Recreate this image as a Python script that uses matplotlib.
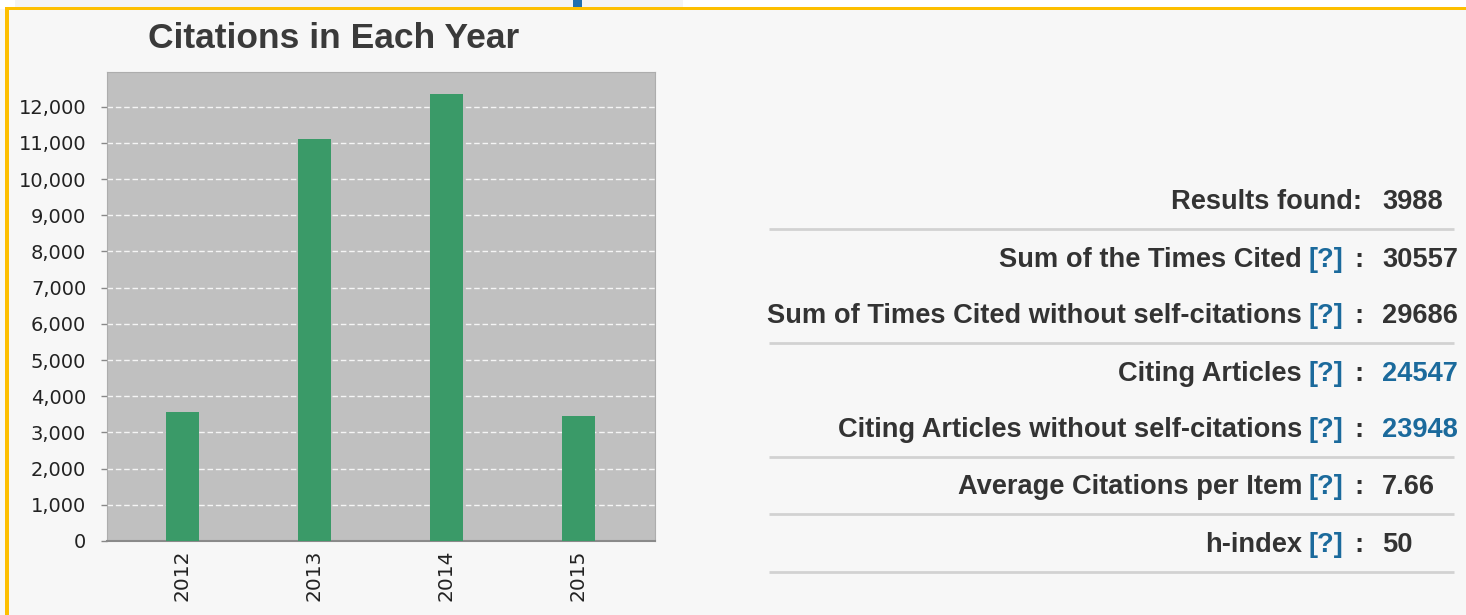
import matplotlib.pyplot as plt
from matplotlib.patches import Rectangle

# chart data
years = ["2012", "2013", "2014", "2015"]
citations = [3570, 11100, 12350, 3450]
yticks = list(range(0, 13000, 1000))

# summary table on the right
row_labels = ["Sum of the Times Cited", "Sum of Times Cited without self-citations",
              "Citing Articles", "Citing Articles without self-citations",
              "Average Citations per Item", "h-index"]
row_values = ["30557", "29686", "24547", "23948", "7.66", "50"]
results_found = "3988"

W, H = 1466, 615
txt = "#333333"
blue = "#1b6a9c"

fig = plt.figure(figsize=(W / 100, H / 100), dpi=100)
fig.patch.set_facecolor("white")

# background layer in pixel coordinates
bg = fig.add_axes([0, 0, 1, 1])
bg.set_xlim(0, W)
bg.set_ylim(H, 0)
bg.axis("off")
bg.add_patch(Rectangle((0, 9), W, H, facecolor="#f7f7f7", edgecolor="none"))
bg.add_patch(Rectangle((15, 0), 668, 7, facecolor="#f4f4f4", edgecolor="none"))
bg.add_patch(Rectangle((573, 0), 9, 7, facecolor="#1f6fae", edgecolor="none"))
bg.add_patch(Rectangle((5, 7), W, 3, facecolor="#fdbf00", edgecolor="none"))
bg.add_patch(Rectangle((5, 7), 4, H, facecolor="#fdbf00", edgecolor="none"))

# title
bg.text(334, 48, "Citations in Each Year", ha="center", va="baseline",
        fontsize=25.5, fontweight="bold", color="#3a3a3a", family="Liberation Sans")

# table
font = dict(fontsize=19.6, fontweight="bold", family="Liberation Sans", va="baseline")
bg.text(1362, 209, "Results found:", ha="right", color=txt, **font)
bg.text(1382, 209, results_found, ha="left", color=txt, **font)
row_y = [258, 314, 372, 428, 485, 543]
for lab, val, y in zip(row_labels, row_values, row_y):
    b = y + 9
    bg.text(1302, b, lab, ha="right", color=txt, **font)
    bg.text(1309, b, "[?]", ha="left", color=blue, **font)
    bg.text(1354, b, ":", ha="left", color=txt, **font)
    vcol = blue if lab.startswith("Citing") else txt
    bg.text(1382, b, val, ha="left", color=vcol, **font)
for y in [229, 343, 457, 514, 572]:
    bg.plot([769, 1454], [y, y], color="#d2d2d2", lw=2, solid_capstyle="butt")

# bar chart
ax = fig.add_axes([107 / W, 1 - 541 / H, 548 / W, 469 / H])
ax.set_facecolor("#c0c0c0")
ax.bar(range(len(years)), citations, width=0.255, color="#3a9a68", zorder=3)
ax.set_xlim(-0.572, 3.58)
ax.set_ylim(0, 12960)
ax.set_yticks(yticks)
ax.set_yticklabels([f"{v:,}" for v in yticks])
ax.set_xticks(range(len(years)))
ax.set_xticklabels(years, rotation=90)
ax.yaxis.grid(True, color="white", linestyle=(0, (4, 2)), lw=1, alpha=0.85, zorder=1)
ax.set_axisbelow(True)
ax.tick_params(axis="y", length=4, width=1, color="#888888", pad=11,
               labelsize=14, labelcolor="#222222")
ax.tick_params(axis="x", length=0, pad=6, labelsize=14.5, labelcolor="#222222")
for s in ["top", "left", "right"]:
    ax.spines[s].set_color("#adadad")
ax.spines["bottom"].set_color("#8a8a8a")
ax.spines["bottom"].set_linewidth(1.5)

plt.savefig("out.png", dpi=100, facecolor=fig.get_facecolor())
